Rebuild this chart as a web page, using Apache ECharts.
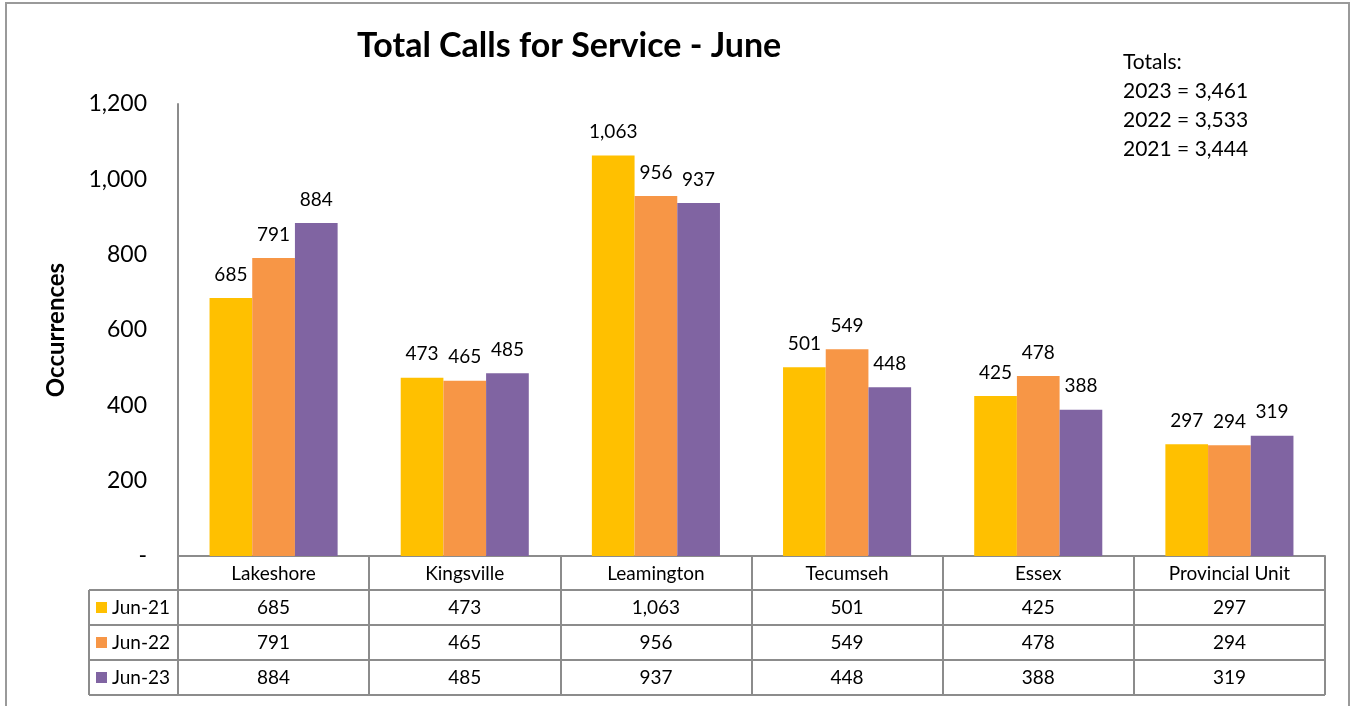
<!DOCTYPE html>
<html>
<head>
<meta charset="utf-8">
<script src="https://cdn.jsdelivr.net/npm/echarts@6/dist/echarts.min.js"></script>
<style>html,body{margin:0;padding:0;background:#fff;}#c{width:1355px;height:706px;}</style>
</head>
<body>
<div id="c"></div>
<script>
var categories = ['Lakeshore', 'Kingsville', 'Leamington', 'Tecumseh', 'Essex', 'Provincial Unit'];
var seriesNames = ['Jun-21', 'Jun-22', 'Jun-23'];
var jun21 = [685, 473, 1063, 501, 425, 297];
var jun22 = [791, 465, 956, 549, 478, 294];
var jun23 = [884, 485, 937, 448, 388, 319];
var colors = ['#FFC000', '#F79646', '#8064A2'];
var totalsLines = ['Totals:', '2023 = 3,461', '2022 = 3,533', '2021 = 3,444'];
var titleText = 'Total Calls for Service - June';
var yAxisName = 'Occurrences';

var rows = [jun21, jun22, jun23];
var FONT = 'Lato';
function fmt(v) { return Number(v).toLocaleString('en-US'); }

var G = { left: 178, right: 30, top: 104, bottom: 150 };
var W = 1355, H = 706;
var plotBottom = H - G.bottom;       // 556
var rowH = 35;
var headerH = 34;
var tableLeft = 89;
var tableRight = W - G.right;
var lineColor = '#8c8c8c';

var xAxes = [{
  type: 'category', data: categories, position: 'bottom', gridIndex: 0,
  axisLine: { show: true, lineStyle: { color: lineColor, width: 2 } },
  axisTick: { show: true, interval: 0, length: headerH + rowH * 3, lineStyle: { color: lineColor, width: 2 } },
  axisLabel: { interval: 0, margin: 8, fontFamily: FONT, fontSize: 19, color: '#000' }
}];
rows.forEach(function (r, k) {
  xAxes.push({
    type: 'category', data: categories, position: 'bottom', gridIndex: 0,
    offset: headerH + rowH * k,
    axisLine: { show: false }, axisTick: { show: false },
    axisLabel: { interval: 0, margin: 8, fontFamily: FONT, fontSize: 19, color: '#000',
      formatter: function (v, i) { return fmt(r[i]); } }
  });
});

var series = rows.map(function (r, k) {
  return {
    name: seriesNames[k], type: 'bar', data: r, xAxisIndex: 0,
    barGap: '0%', barCategoryGap: '33%',
    itemStyle: { color: colors[k] },
    label: { show: true, position: 'top', distance: 14, fontFamily: FONT, fontSize: 19, color: '#000',
      formatter: function (p) { return fmt(p.value); } }
  };
});

var legends = seriesNames.map(function (n, k) {
  return {
    data: [n], left: 96, top: plotBottom + headerH + rowH * k + 8, padding: 0,
    itemWidth: 11, itemHeight: 11, icon: 'rect', itemGap: 5,
    textStyle: { fontFamily: FONT, fontSize: 19, color: '#000' }, selectedMode: false
  };
});

var graphics = [
  { type: 'rect', shape: { x: 6, y: 3, width: 1343, height: 760 }, style: { fill: 'none', stroke: '#9a9a9a', lineWidth: 2 }, silent: true },
  { type: 'line', shape: { x1: tableLeft, y1: plotBottom + headerH, x2: tableLeft, y2: plotBottom + headerH + rowH * 3 }, style: { stroke: lineColor, lineWidth: 2 } },
  { type: 'line', shape: { x1: G.left, y1: plotBottom, x2: G.left, y2: plotBottom + headerH + rowH * 3 }, style: { stroke: lineColor, lineWidth: 2 } }
];
for (var i = 0; i <= 3; i++) {
  var y = plotBottom + headerH + rowH * i;
  graphics.push({ type: 'line', shape: { x1: tableLeft, y1: y, x2: tableRight, y2: y }, style: { stroke: lineColor, lineWidth: 2 } });
}

var chart = echarts.init(document.getElementById('c'));
chart.setOption({
  animation: false,
  title: [
    { text: titleText, left: 352, top: 24, textStyle: { fontFamily: FONT, fontSize: 34, fontWeight: 'bold', color: '#000' } },
    { text: totalsLines.join('\n'), left: 1118, top: 43, textStyle: { fontFamily: FONT, fontSize: 21, fontWeight: 'normal', color: '#000', lineHeight: 29 } }
  ],
  legend: legends,
  grid: { left: G.left, right: G.right, top: G.top, bottom: G.bottom, containLabel: false },
  xAxis: xAxes,
  yAxis: {
    type: 'value', min: 0, max: 1200, interval: 200,
    name: yAxisName, nameLocation: 'middle', nameRotate: 90, nameGap: 110,
    nameTextStyle: { fontFamily: FONT, fontSize: 24, fontWeight: 'bold', color: '#000' },
    axisLine: { show: true, lineStyle: { color: lineColor, width: 2 } },
    axisTick: { show: false }, splitLine: { show: false },
    axisLabel: { margin: 31, fontFamily: FONT, fontSize: 23, color: '#000',
      formatter: function (v) { return v === 0 ? '-' : fmt(v); } }
  },
  series: series,
  graphic: graphics
});
</script>
</body>
</html>
